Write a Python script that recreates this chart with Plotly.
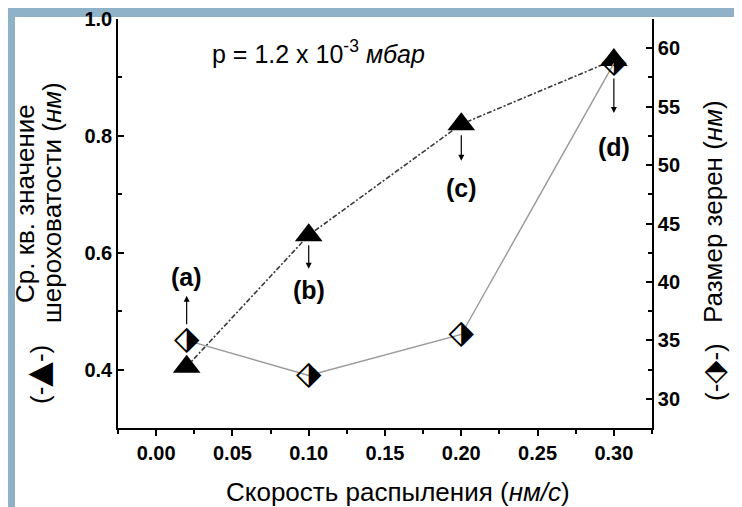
import plotly.graph_objects as go

# ---- data ----
rate = [0.02, 0.10, 0.20, 0.30]                 # Скорость распыления (нм/с)
roughness = [0.405, 0.63, 0.82, 0.93]           # Ср. кв. значение шероховатости (нм)
grain = [35.0, 32.0, 35.5, 58.7]                # Размер зерен (нм)
labels = ["(a)", "(b)", "(c)", "(d)"]
x_ticks = [0.00, 0.05, 0.10, 0.15, 0.20, 0.25, 0.30]
y1_ticks = [0.4, 0.6, 0.8, 1.0]
y2_ticks = [30, 35, 40, 45, 50, 55, 60]

# the plot div sits 8 px inside the page (browser body margin)
OFFX, OFFY = 8, 8
SW, SH = 742, 507
W, H = SW - OFFX, SH - OFFY
SL, ST, SR, SB = 118, 19, 652, 428     # plot area in screen pixels
L, T = SL - OFFX, ST - OFFY
R, B = W - (SR - OFFX), H - (SB - OFFY)
PW, PH = SR - SL, SB - ST

def px(sx):
    return (sx - SL) / PW

def py(sy):
    return (SB - sy) / PH

FONT = "Liberation Sans, Arial, sans-serif"

fig = go.Figure()

fig.add_trace(go.Scatter(x=rate, y=roughness, mode="lines",
                         line=dict(color="#3a3a3a", width=1.6, dash="5px,2px,2px,2px"),
                         yaxis="y", showlegend=False, hoverinfo="skip"))
fig.add_trace(go.Scatter(x=rate, y=grain, mode="lines",
                         line=dict(color="#9a9a9a", width=1.4),
                         yaxis="y2", showlegend=False, hoverinfo="skip"))
fig.add_trace(go.Scatter(x=rate, y=roughness, mode="markers",
                         marker=dict(symbol="triangle-up", size=24, color="black"),
                         yaxis="y", showlegend=False))
fig.add_trace(go.Scatter(x=rate, y=grain, mode="text", text=["⬗"] * len(rate),
                         textposition="middle center",
                         textfont=dict(size=33, color="black", family="DejaVu Sans"),
                         yaxis="y2", showlegend=False))

axis_common = dict(showline=True, linecolor="black", linewidth=1.6, showgrid=False,
                   zeroline=False, tickcolor="black", tickwidth=1.6, automargin=False,
                   tickfont=dict(family=FONT, size=20, color="black", weight="bold"))

fig.update_layout(
    width=W, height=H,
    margin=dict(l=L, r=R, t=T, b=B, pad=0, autoexpand=False),
    paper_bgcolor="#8fb2c8", plot_bgcolor="white",
    xaxis=dict(range=[-0.025, 0.325], tickvals=x_ticks, tickformat=".2f",
               ticks="outside", ticklen=6,
               minor=dict(tickvals=[-0.025, 0.025, 0.075, 0.125, 0.175, 0.225, 0.275, 0.325],
                          ticks="outside", ticklen=4, tickwidth=1.6, tickcolor="black"),
               **axis_common),
    yaxis=dict(range=[0.3, 1.0], tickvals=y1_ticks, tickformat=".1f",
               ticks="inside", ticklen=6,
               minor=dict(tickvals=[0.5, 0.7, 0.9], ticks="inside", ticklen=4,
                          tickwidth=1.6, tickcolor="black"),
               **axis_common),
    yaxis2=dict(range=[27.5, 62.5], tickvals=y2_ticks, overlaying="y", side="right",
                ticks="inside", ticklen=6,
                minor=dict(tickvals=[27.5, 32.5, 37.5, 42.5, 47.5, 52.5, 57.5, 62.5],
                           ticks="inside", ticklen=4, tickwidth=1.6, tickcolor="black"),
                **axis_common),
    # white page; a blue frame remains along the top and left edges
    shapes=[dict(type="rect", xref="paper", yref="paper", layer="below",
                 x0=(7 - L) / PW, x1=(W + 20 - L) / PW,
                 y0=(T + PH - (H + 20)) / PH, y1=(T + PH - 9) / PH,
                 fillcolor="white", line=dict(width=0))],
)

ann = []
ann.append(dict(xref="paper", yref="paper", x=px(210), y=py(52), xanchor="left", yanchor="middle",
                text="p = 1.2 x 10<sup>-3</sup> <i>мбар</i>", showarrow=False,
                font=dict(family=FONT, size=25, color="black")))
# (y value, yref, arrow tail shift, label offset, start standoff)
spec = [
    (grain[0], "y2", 16, -47, 3),
    (roughness[1], "y", -10, 45, 6),
    (roughness[2], "y", -11, 53, 12),
    (grain[3], "y2", -15, 69, 19),
]
for xi, (yv, yr, ysh, ay, sso), lab in zip(rate, spec, labels):
    ann.append(dict(x=xi, y=yv, xref="x", yref=yr, yshift=ysh, ax=0, ay=ay,
                    axref="pixel", ayref="pixel", text=lab, showarrow=True,
                    arrowside="start", startarrowhead=2, startarrowsize=1,
                    startstandoff=sso, arrowwidth=1.2, arrowcolor="black",
                    xanchor="center", yanchor="middle",
                    font=dict(family=FONT, size=25, color="black", weight="bold")))

TF = dict(family=FONT, size=26, color="black")
ann.append(dict(xref="paper", yref="paper", x=px(398), y=py(492), showarrow=False,
                xanchor="center", yanchor="middle",
                text="Скорость распыления (<i>нм/с</i>)", font=TF))
ann.append(dict(xref="paper", yref="paper", x=px(25), y=py(204), showarrow=False, textangle=-90,
                xanchor="center", yanchor="middle", text="Ср. кв. значение", font=TF))
ann.append(dict(xref="paper", yref="paper", x=px(52), y=py(203), showarrow=False, textangle=-90,
                xanchor="center", yanchor="middle", text="шероховатости (<i>нм</i>)", font=TF))
ann.append(dict(xref="paper", yref="paper", x=px(38), y=py(375), showarrow=False, textangle=-90,
                xanchor="center", yanchor="middle",
                text="(-<span style='font-family:DejaVu Sans;font-size:32px'>▲</span>-)", font=TF))
ann.append(dict(xref="paper", yref="paper", x=px(713), y=py(212), showarrow=False, textangle=-90,
                xanchor="center", yanchor="middle", text="Размер зерен (<i>нм</i>)", font=TF))
ann.append(dict(xref="paper", yref="paper", x=px(713), y=py(372), showarrow=False, textangle=-90,
                xanchor="center", yanchor="middle",
                text="(-<span style='font-family:DejaVu Sans;font-size:30px'>⬗</span>-)", font=TF))
fig.update_layout(annotations=ann)

fig.write_html("out.html")
